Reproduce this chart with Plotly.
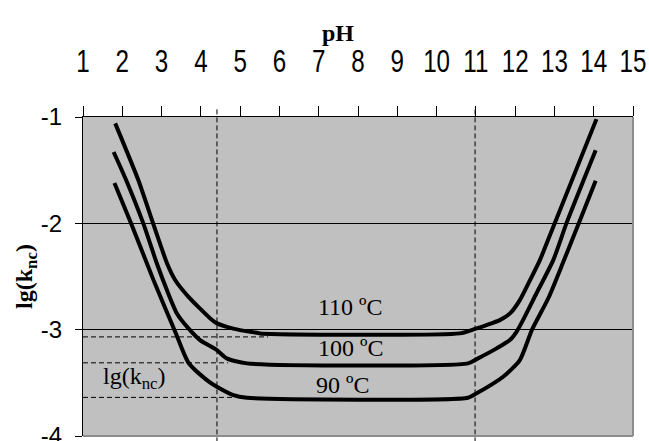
import plotly.graph_objects as go

# ---- data ----
ph_110 = [1.82, 2.41, 2.78, 3.14, 3.35, 3.685, 4.24, 4.41, 4.66, 5.00, 5.33, 5.51,
          10.59, 11.00, 11.27, 11.61, 11.87, 12.12, 12.38, 12.63, 13.01, 14.07]
lg_110 = [-1.06, -1.595, -1.996, -2.377, -2.535, -2.691, -2.894, -2.941, -2.973, -3.004, -3.023, -3.035,
          -3.035, -2.99, -2.957, -2.91, -2.847, -2.722, -2.534, -2.346, -1.996, -1.02]

ph_100 = [1.78, 2.10, 2.53, 2.88, 3.136, 3.39, 3.685, 3.98, 4.407, 4.66, 5.17,
          10.80, 11.02, 11.53, 11.865, 12.035, 12.20, 12.54, 12.97, 13.31, 14.05]
lg_100 = [-1.329, -1.595, -1.996, -2.378, -2.628, -2.847, -2.988, -3.098, -3.192, -3.27, -3.317,
          -3.317, -3.277, -3.176, -3.098, -3.02, -2.91, -2.66, -2.346, -1.996, -1.313]

ph_90 = [1.80, 2.22, 2.795, 3.347, 3.685, 4.153, 4.407, 4.829, 5.17,
         10.80, 11.02, 11.694, 12.12, 12.43, 12.85, 13.24, 13.62, 14.05]
lg_90 = [-1.62, -1.996, -2.534, -3.02, -3.311, -3.474, -3.537, -3.615, -3.64,
         -3.64, -3.599, -3.443, -3.286, -3.0, -2.70, -2.35, -2.00, -1.60]

curve_labels = ["110 ºC", "100 ºC", "90 ºC"]
label_ph = [7.80, 7.80, 7.60]
label_lg = [-2.785, -3.176, -3.521]

ref_lg = [-3.068, -3.312, -3.637]          # dashed horizontal lg(k_nc) levels
ref_ph_end = [5.71, 4.69, 4.82]            # where each dashed level meets its curve
ref_ph_vertical = [4.41, 10.98]            # dashed vertical pH limits

x_ticks = list(range(1, 16))
y_ticks = [-1, -2, -3, -4]

SERIF = "Liberation Serif, Times New Roman, serif"

# ---- figure ----
fig = go.Figure()
for ph, lg in [(ph_110, lg_110), (ph_100, lg_100), (ph_90, lg_90)]:
    fig.add_trace(go.Scatter(x=ph, y=lg, mode="lines",
                             line=dict(color="black", width=4, shape="spline", smoothing=0.6),
                             showlegend=False, hoverinfo="skip"))

shapes = []
for lg, pe in zip(ref_lg, ref_ph_end):
    shapes.append(dict(type="line", xref="x", yref="y", x0=1, x1=pe, y0=lg, y1=lg,
                       line=dict(color="black", width=1, dash="5px,3px"), layer="below"))
for pv in ref_ph_vertical:
    shapes.append(dict(type="line", xref="x", yref="paper", x0=pv, x1=pv, y0=-0.02, y1=1.026,
                       line=dict(color="black", width=1, dash="5px,3px"), layer="above"))
# grey frame on right and bottom
shapes.append(dict(type="line", xref="paper", yref="paper", x0=1, x1=1, y0=0, y1=1,
                   line=dict(color="#8c8c8c", width=2), layer="above"))
shapes.append(dict(type="line", xref="paper", yref="paper", x0=0, x1=1, y0=0, y1=0,
                   line=dict(color="#8c8c8c", width=2), layer="above"))

annotations = []
for t, px, ly in zip(curve_labels, label_ph, label_lg):
    annotations.append(dict(x=px, y=ly, xref="x", yref="y", text=t, showarrow=False,
                            font=dict(family=SERIF, size=24, color="black")))
annotations.append(dict(x=1.45, y=-3.455, xref="x", yref="y", xanchor="left",
                        text="lg(k<sub>nc</sub>)", showarrow=False,
                        font=dict(family=SERIF, size=24, color="black")))
# x-axis title "pH" (placed above the tick labels as in the reference)
annotations.append(dict(x=(338 - 83) / 550, y=1 + (117 - 33) / 319, xref="paper", yref="paper",
                        yanchor="middle", text="<b>pH</b>", showarrow=False,
                        font=dict(family=SERIF, size=24, color="black")))

fig.update_layout(
    width=649, height=441,
    margin=dict(l=83, r=16, t=117, b=5, autoexpand=False),
    paper_bgcolor="white", plot_bgcolor="#c0c0c0",
    shapes=shapes, annotations=annotations,
    xaxis=dict(range=[1, 15], side="top", tickvals=x_ticks, ticktext=[str(v) for v in x_ticks],
               ticks="outside", ticklen=10, tickcolor="black", tickwidth=1, automargin=False,
               showline=True, linecolor="black", linewidth=1, showgrid=False, zeroline=False,
               ticklabelstandoff=22, ticklabeloverflow="allow",
               tickfont=dict(family="Liberation Sans, Arial, sans-serif", size=31, color="black")),
    yaxis=dict(range=[-4, -1], tickvals=y_ticks, ticktext=[str(v) for v in y_ticks],
               ticks="outside", ticklen=7, tickcolor="black", tickwidth=1, automargin=False,
               showline=True, linecolor="black", linewidth=1,
               showgrid=True, gridcolor="black", gridwidth=1, zeroline=False,
               ticklabelstandoff=8, ticklabeloverflow="allow",
               tickfont=dict(family="Liberation Sans, Arial, sans-serif", size=24, color="black"),
               title=dict(text="<b>lg(k<sub>nc</sub>)</b>", standoff=1,
                          font=dict(family=SERIF, size=24, color="black"))),
)

post = """
document.body.style.margin = '0';
var gd = document.getElementById('{plot_id}');
gd.querySelectorAll('.xtick text').forEach(function(t){
  var x = parseFloat(t.getAttribute('x')) || 0;
  var tr = t.getAttribute('transform') || '';
  t.setAttribute('transform', tr + ' translate(' + x + ',0) scale(0.78,1) translate(' + (-x) + ',0)');
});
"""

fig.write_html("out.html", post_script=post, config={"displayModeBar": False})
